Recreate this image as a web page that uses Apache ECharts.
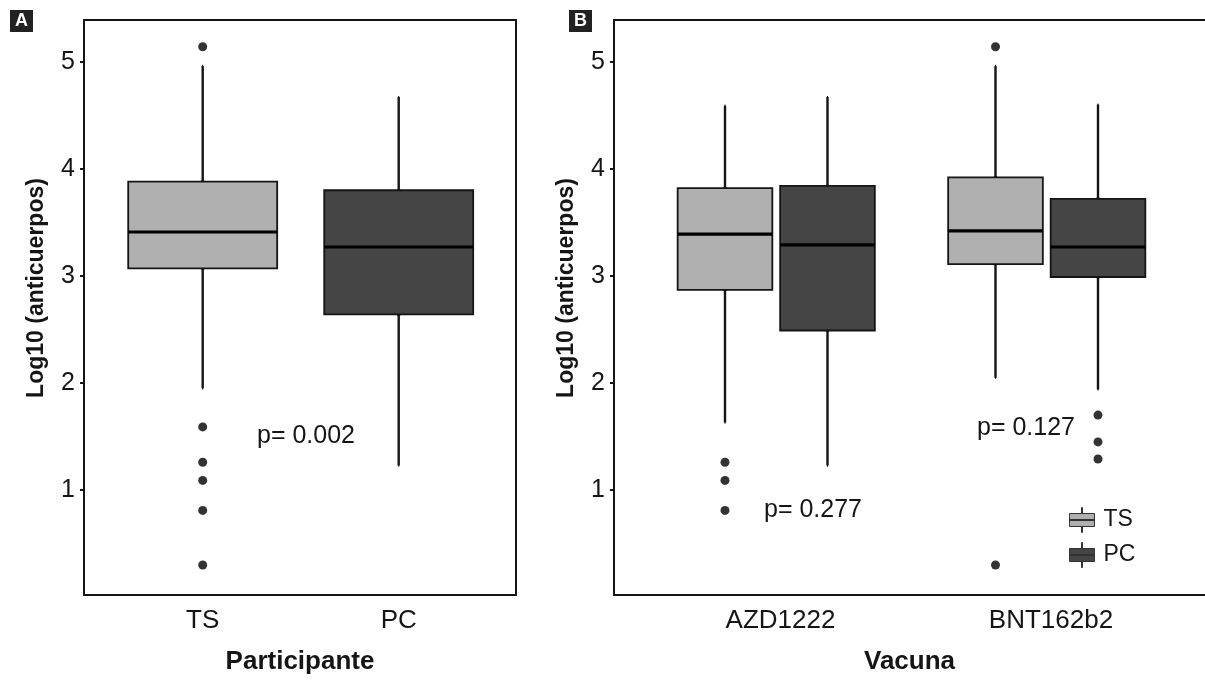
<!DOCTYPE html>
<html>
<head>
<meta charset="utf-8">
<script src="https://cdn.jsdelivr.net/npm/echarts@6/dist/echarts.min.js"></script>
<style>
  html, body { margin: 0; padding: 0; background: #fff; }
  #main { width: 1205px; height: 682px; }
</style>
</head>
<body>
<div id="main"></div>
<script>
// panel A: by participant
const partCats = ['TS', 'PC'];
// [min, Q1, median, Q3, max] per category
const partBox = [
  [1.95, 3.07, 3.41, 3.88, 4.96],
  [1.23, 2.64, 3.27, 3.80, 4.67],
];
const partOutliers = [
  ['TS', 5.14], ['TS', 1.59], ['TS', 1.26], ['TS', 1.09], ['TS', 0.81], ['TS', 0.30],
];

// panel B: by vaccine
const vacCats = ['AZD1222', 'BNT162b2'];
const vacTS = [
  [1.63, 2.87, 3.39, 3.82, 4.59],
  [2.05, 3.11, 3.42, 3.92, 4.96],
];
const vacPC = [
  [1.23, 2.49, 3.29, 3.84, 4.67],
  [1.94, 2.99, 3.27, 3.72, 4.60],
];
const vacTSOut = [
  ['AZD1222', 1.26], ['AZD1222', 1.09], ['AZD1222', 0.81],
  ['BNT162b2', 5.14], ['BNT162b2', 0.30],
];
const vacPCOut = [
  ['BNT162b2', 1.70], ['BNT162b2', 1.45], ['BNT162b2', 1.29],
];

const yTicks = [1, 2, 3, 4, 5];
const pTexts = ['p= 0.002', 'p= 0.277', 'p= 0.127'];

const FONT = '"Liberation Sans", Arial, Helvetica, sans-serif';
const INK = '#151515';
const LIGHT = '#b0b0b0';
const DARK = '#454545';
const Y_MIN = 0.02;
const Y_MAX = 5.39;

// box with whiskers collapsed onto it, and a flat box at the median
const boxOnly = (rows) => rows.map((r) => [r[1], r[1], r[2], r[3], r[3]]);
const medianOnly = (rows) => rows.map((r) => [r[2], r[2], r[2], r[2], r[2]]);

const chart = echarts.init(document.getElementById('main'), null, { renderer: 'canvas' });

const frameX = (gridIndex, position, name) => ({
  type: 'value', gridIndex, position, min: 0, max: 1,
  axisLine: { show: true, onZero: false, lineStyle: { color: INK, width: 2 } },
  axisTick: { show: false }, axisLabel: { show: false }, splitLine: { show: false },
  name: name || '', nameLocation: 'middle', nameGap: 54,
  nameTextStyle: { fontFamily: FONT, fontSize: 26, fontWeight: 'bold', color: INK },
});

const frameY = (gridIndex) => ({
  type: 'value', gridIndex, min: Y_MIN, max: Y_MAX,
  axisLine: { show: true, onZero: false, lineStyle: { color: INK, width: 2 } },
  axisTick: { show: true, customValues: yTicks, length: 4, lineStyle: { color: INK, width: 2 } },
  axisLabel: { show: true, customValues: yTicks, margin: 9, fontFamily: FONT, fontSize: 25, color: INK },
  splitLine: { show: false },
  name: 'Log10 (anticuerpos)', nameLocation: 'middle', nameGap: 36,
  nameTextStyle: { fontFamily: FONT, fontSize: 23, fontWeight: 'bold', color: INK, padding: [0, 0, 0, 39] },
});

const hiddenY = (gridIndex) => ({ type: 'value', gridIndex, min: Y_MIN, max: Y_MAX, show: false });
const hiddenCat = (gridIndex, data, gap) => ({ type: 'category', gridIndex, data, boundaryGap: gap, show: false });
const labelCat = (gridIndex, data, gap) => ({
  type: 'category', gridIndex, data, boundaryGap: gap,
  axisLine: { show: false }, axisTick: { show: false }, splitLine: { show: false },
  axisLabel: { margin: 13, fontFamily: FONT, fontSize: 26, color: INK },
});

const whiskers = (name, x, y, data) => ({
  type: 'boxplot', name, xAxisIndex: x, yAxisIndex: y, data,
  boxWidth: [1, 1], silent: true, z: 2,
  itemStyle: { color: INK, borderColor: INK, borderWidth: 2.4 },
});
const boxes = (name, x, y, data, fill, width) => ({
  type: 'boxplot', name, xAxisIndex: x, yAxisIndex: y, data,
  boxWidth: [width, width], silent: true, z: 3,
  itemStyle: { color: fill, borderColor: INK, borderWidth: 1.8 },
});
const medians = (name, x, y, data, width) => ({
  type: 'boxplot', name, xAxisIndex: x, yAxisIndex: y, data,
  boxWidth: [width, width], silent: true, z: 4,
  itemStyle: { color: INK, borderColor: '#000', borderWidth: 3.2 },
});
const dots = (name, x, y, data) => ({
  type: 'scatter', name, xAxisIndex: x, yAxisIndex: y, data,
  symbolSize: 9, silent: true, z: 5,
  itemStyle: { color: '#000' },
});

const iconPath = 'path://M0,6L25,6L25,19L0,19Z M12,0L13,0L13,6L12,6Z M12,19L13,19L13,25L12,25Z M0,12L25,12L25,13L0,13Z';

const partBoxData = boxOnly(partBox).map((v, i) => ({
  value: v, itemStyle: { color: i === 0 ? LIGHT : DARK },
}));

chart.setOption({
  animation: false,
  backgroundColor: '#fff',
  textStyle: { fontFamily: FONT },
  title: [
    { text: 'A', left: 10, top: 10, padding: [2, 5], backgroundColor: '#222',
      textStyle: { color: '#fff', fontSize: 18, fontWeight: 'bold', fontFamily: FONT } },
    { text: 'B', left: 569, top: 10, padding: [2, 5], backgroundColor: '#222',
      textStyle: { color: '#fff', fontSize: 18, fontWeight: 'bold', fontFamily: FONT } },
  ],
  legend: {
    orient: 'vertical', left: 1069, top: 507, padding: 0,
    itemWidth: 25, itemHeight: 25, itemGap: 9,
    selectedMode: false,
    textStyle: { fontFamily: FONT, fontSize: 23, color: INK, padding: [0, 0, 0, 4] },
    data: [
      { name: 'TS', icon: iconPath, itemStyle: { color: LIGHT, borderColor: '#333', borderWidth: 1 } },
      { name: 'PC', icon: iconPath, itemStyle: { color: DARK, borderColor: '#333', borderWidth: 1 } },
    ],
  },
  grid: [
    { left: 84, top: 20, width: 432, height: 575 },      // A frame
    { left: 104.7, top: 20, width: 392, height: 575 },   // A boxes
    { left: 614, top: 20, right: 0, height: 575 },       // B frame
    { left: 725, top: 20, width: 270.5, height: 575 },   // B TS (centre to centre)
    { left: 827.5, top: 20, width: 270.5, height: 575 }, // B PC (centre to centre)
    { left: 780.5, top: 20, width: 270.5, height: 575 }, // B labels
  ],
  xAxis: [
    frameX(0, 'bottom', 'Participante'),
    frameX(0, 'top'),
    labelCat(1, partCats, true),
    hiddenCat(1, partCats, true),
    frameX(2, 'bottom', 'Vacuna'),
    frameX(2, 'top'),
    hiddenCat(3, vacCats, false),
    hiddenCat(3, vacCats, false),
    hiddenCat(4, vacCats, false),
    hiddenCat(4, vacCats, false),
    labelCat(5, vacCats, false),
    hiddenCat(1, partCats, true),
    hiddenCat(3, vacCats, false),
    hiddenCat(4, vacCats, false),
  ],
  yAxis: [
    frameY(0),
    {
      type: 'value', gridIndex: 0, position: 'right', min: Y_MIN, max: Y_MAX,
      axisLine: { show: true, onZero: false, lineStyle: { color: INK, width: 2 } },
      axisTick: { show: false }, axisLabel: { show: false }, splitLine: { show: false },
    },
    hiddenY(1),
    frameY(2),
    hiddenY(3),
    hiddenY(4),
    hiddenY(5),
  ],
  series: [
    // panel A
    whiskers('Participante', 3, 2, partBox),
    boxes('Participante', 2, 2, partBoxData, LIGHT, '76%'),
    medians('Participante', 11, 2, medianOnly(partBox), '76%'),
    dots('Participante', 2, 2, partOutliers),
    // panel B
    whiskers('TS', 6, 4, vacTS),
    boxes('TS', 7, 4, boxOnly(vacTS), LIGHT, '35%'),
    medians('TS', 12, 4, medianOnly(vacTS), '35%'),
    dots('TS', 7, 4, vacTSOut),
    whiskers('PC', 8, 5, vacPC),
    boxes('PC', 9, 5, boxOnly(vacPC), DARK, '35%'),
    medians('PC', 13, 5, medianOnly(vacPC), '35%'),
    dots('PC', 9, 5, vacPCOut),
  ],
  graphic: [
    { type: 'text', x: 306, y: 436, style: { text: pTexts[0], font: '25px ' + FONT, fill: INK, align: 'center', verticalAlign: 'middle' } },
    { type: 'text', x: 813, y: 510, style: { text: pTexts[1], font: '25px ' + FONT, fill: INK, align: 'center', verticalAlign: 'middle' } },
    { type: 'text', x: 1026, y: 428, style: { text: pTexts[2], font: '25px ' + FONT, fill: INK, align: 'center', verticalAlign: 'middle' } },
  ],
});
</script>
</body>
</html>
